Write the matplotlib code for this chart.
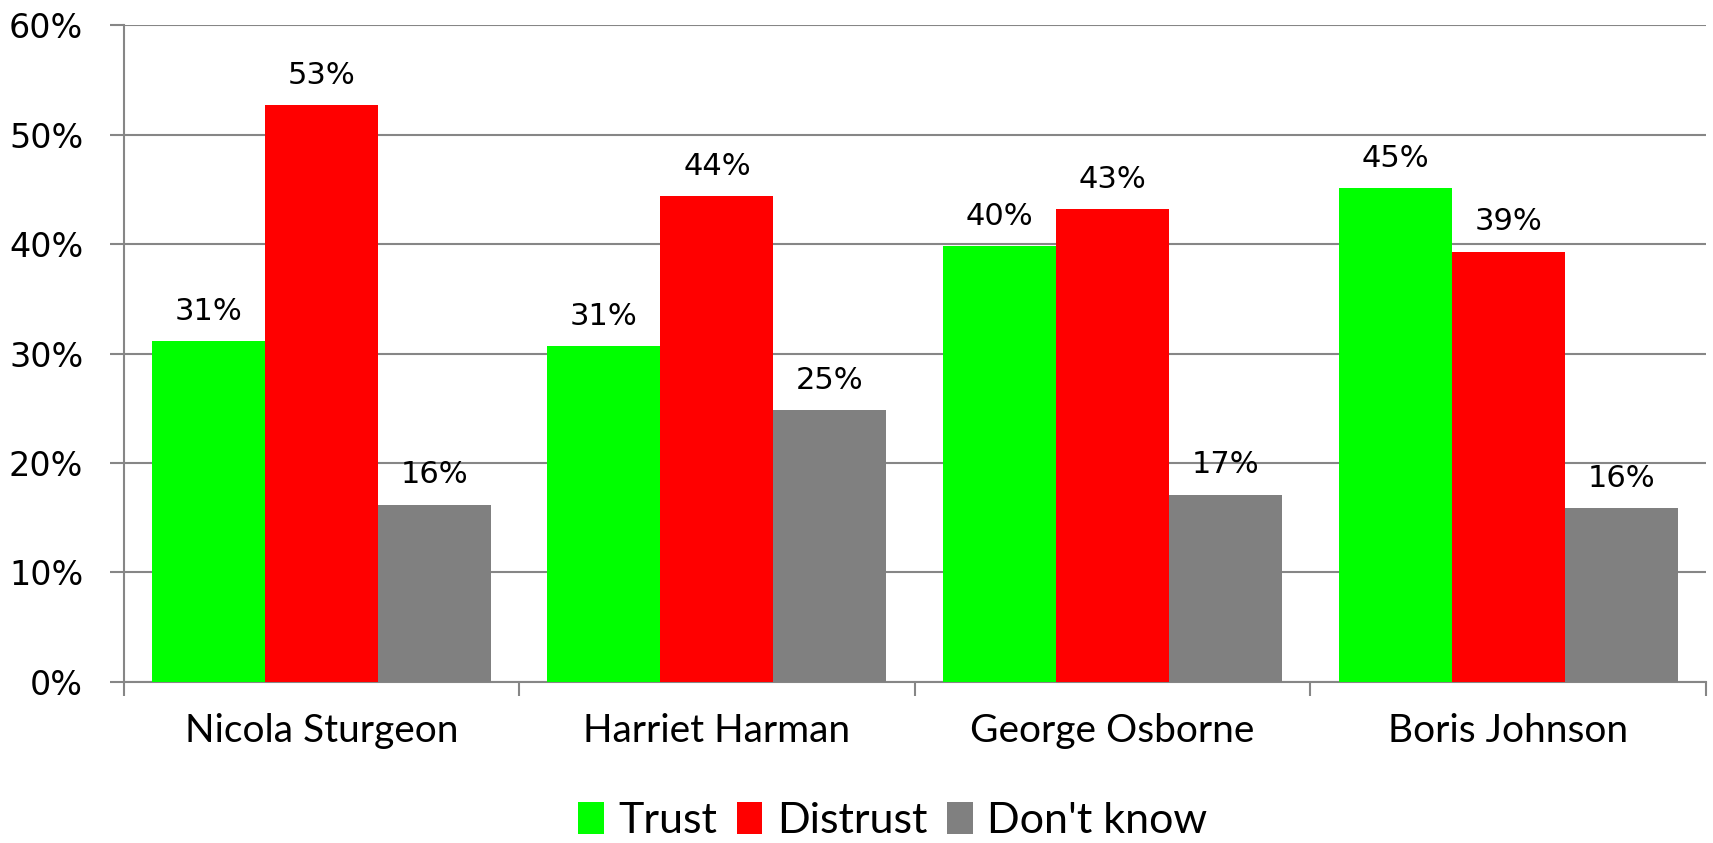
import matplotlib
matplotlib.use("Agg")
import matplotlib.pyplot as plt
import numpy as np

categories = ["Nicola Sturgeon", "Harriet Harman", "George Osborne", "Boris Johnson"]
series_names = ["Trust", "Distrust", "Don't know"]
trust = [31.1, 30.7, 39.8, 45.1]
distrust = [52.7, 44.4, 43.2, 39.3]
dont_know = [16.2, 24.8, 17.1, 15.9]
colors = ["#00FF00", "#FF0000", "#808080"]
yticks = [0, 10, 20, 30, 40, 50, 60]

fig = plt.figure(figsize=(17.13, 8.43), dpi=100)
ax = fig.add_axes([0.0721, 0.191, 0.9238, 0.7793])

series = [trust, distrust, dont_know]
n = len(categories)
x = np.arange(n)
bw = 1.0 / 3.5
gridc = "#868686"

for i, (vals, name, c) in enumerate(zip(series, series_names, colors)):
    pos = x - 1.5 * bw + (i + 0.5) * bw
    bars = ax.bar(pos, vals, width=bw, color=c, label=name, zorder=3)
    for b, v in zip(bars, vals):
        ax.annotate(f"{round(v)}%", (b.get_x() + b.get_width() / 2, v),
                    xytext=(0, 11), textcoords="offset points",
                    ha="center", va="bottom", fontsize=22, family="DejaVu Sans")

ax.set_xlim(-0.5, n - 0.5)
ax.set_ylim(0, 60)
ax.set_yticks(yticks)
ax.set_yticklabels([f"{t}%" for t in yticks], fontsize=24, family="DejaVu Sans")
ax.yaxis.grid(True, color=gridc, linewidth=1.5, zorder=0)
ax.tick_params(axis="y", length=10, width=1.5, color=gridc, pad=19)

ax.set_xticks(np.arange(-0.5, n, 1.0))
ax.set_xticklabels([])
ax.set_xticks(x, minor=True)
ax.set_xticklabels(categories, minor=True, fontsize=28, family="Lato")
ax.tick_params(axis="x", which="major", length=10, width=1.5, color=gridc, direction="out")
ax.tick_params(axis="x", which="minor", length=0, pad=22)

for s in ["top", "right"]:
    ax.spines[s].set_visible(False)
for s in ["left", "bottom"]:
    ax.spines[s].set_color(gridc)
    ax.spines[s].set_linewidth(1.5)

leg = fig.legend(loc="center", bbox_to_anchor=(0.521, 0.026), ncol=3, frameon=False,
                 prop={"family": "Lato", "size": 31}, handlelength=0.6, handleheight=0.75,
                 handletextpad=0.33, columnspacing=0.46, borderaxespad=0, borderpad=0)

fig.savefig("out.png", dpi=100)
